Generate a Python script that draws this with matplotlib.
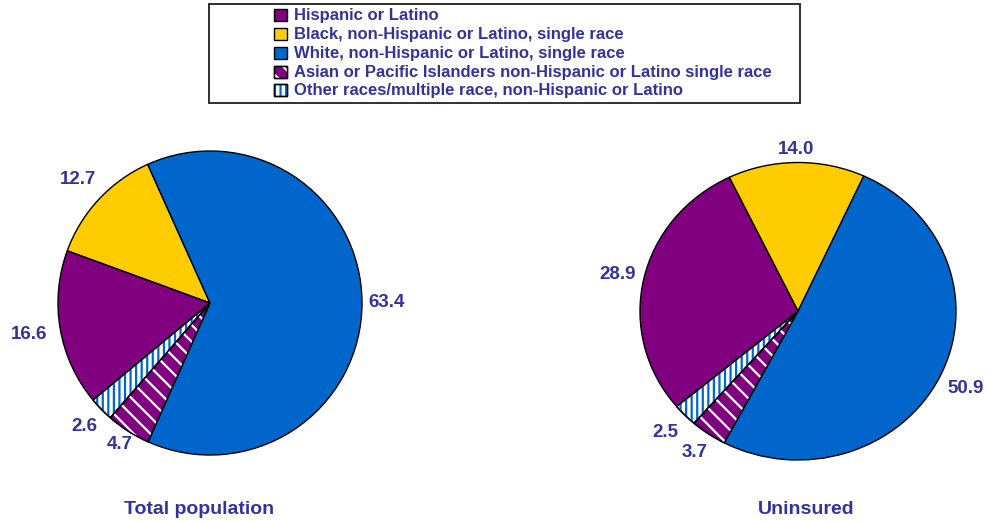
import numpy as np
import matplotlib.pyplot as plt
from matplotlib.patches import Wedge, Rectangle

plt.rcParams['font.family'] = ['Liberation Sans', 'DejaVu Sans']
plt.rcParams['hatch.linewidth'] = 1.6

# Data
groups = ["Hispanic or Latino",
          "Black, non-Hispanic or Latino, single race",
          "White, non-Hispanic or Latino, single race",
          "Asian or Pacific Islanders non-Hispanic or Latino single race",
          "Other races/multiple race, non-Hispanic or Latino"]
total_pop = [16.6, 12.7, 63.4, 4.7, 2.6]
uninsured = [28.9, 14.0, 50.9, 3.7, 2.5]
titles = ["Total population", "Uninsured"]

# Styles
colors = ['#800080', '#FFCC00', '#0066CC', '#800080', '#FFFFFF']
hatches = [None, None, None, '\\\\', '|||']
hatch_colors = [None, None, None, 'white', '#0066CC']
text_color = '#333399'
pie_order = [1, 0, 4, 3, 2]  # counterclockwise, starting at the yellow slice

W, H = 990, 522
fig = plt.figure(figsize=(W / 100, H / 100), dpi=100)


def px_axes(x0, y0, x1, y1):
    # axes placed by pixel box (top-left origin)
    return fig.add_axes([x0 / W, 1 - y1 / H, (x1 - x0) / W, (y1 - y0) / H])


def draw_pie(ax, values, start, label_dist):
    vals = [values[i] for i in pie_order]
    wedges, _, pcts = ax.pie(vals, colors=[colors[i] for i in pie_order],
                             startangle=start, autopct='%.1f',
                             wedgeprops=dict(edgecolor='black', linewidth=1),
                             textprops=dict(color=text_color, fontsize=13.5,
                                            fontweight='bold'))
    for w, t, i in zip(wedges, pcts, pie_order):
        if hatches[i]:
            ax.add_patch(Wedge(w.center, w.r, w.theta1, w.theta2, fill=False,
                               hatch=hatches[i], edgecolor=hatch_colors[i],
                               linewidth=0))
            ax.add_patch(Wedge(w.center, w.r, w.theta1, w.theta2, fill=False,
                               edgecolor='black', linewidth=1))
        mid = np.deg2rad((w.theta1 + w.theta2) / 2)
        t.set_position((label_dist[i] * np.cos(mid), label_dist[i] * np.sin(mid)))
        t.set_clip_on(False)
    ax.set_aspect('auto')
    ax.set_xlim(-1, 1)
    ax.set_ylim(-1, 1)


ax1 = px_axes(58, 151, 362, 455)
draw_pie(ax1, total_pop, 114.2, [1.21, 1.19, 1.16, 1.10, 1.16])
ax2 = px_axes(640, 162.5, 956, 460)
draw_pie(ax2, uninsured, 65.4, [1.17, 1.09, 1.18, 1.15, 1.17])

fig.text(199.5 / W, 1 - 509 / H, titles[0], color=text_color, fontsize=14,
         fontweight='bold', ha='center', va='center')
fig.text(806 / W, 1 - 509 / H, titles[1], color=text_color, fontsize=14,
         fontweight='bold', ha='center', va='center')

# Legend box
lax = fig.add_axes([0, 0, 1, 1], facecolor='none')
lax.set_xlim(0, W)
lax.set_ylim(H, 0)
lax.axis('off')
lax.add_patch(Rectangle((208.5, 4), 591, 99, fill=False, edgecolor='#202020',
                        linewidth=1.3))
for k, name in enumerate(groups):
    yc = 14.8 + k * 18.9
    lax.add_patch(Rectangle((274, yc - 6), 13, 12, facecolor=colors[k],
                            edgecolor='black', linewidth=1))
    if hatches[k]:
        lax.add_patch(Rectangle((274, yc - 6), 13, 12, fill=False,
                                hatch=hatches[k], edgecolor=hatch_colors[k],
                                linewidth=0))
        lax.add_patch(Rectangle((274, yc - 6), 13, 12, fill=False,
                                edgecolor='black', linewidth=1))
    lax.text(294, yc + 0.5, name, color=text_color, fontsize=12, fontweight='bold',
             ha='left', va='center')

fig.savefig('out.png', dpi=100, facecolor='white')
